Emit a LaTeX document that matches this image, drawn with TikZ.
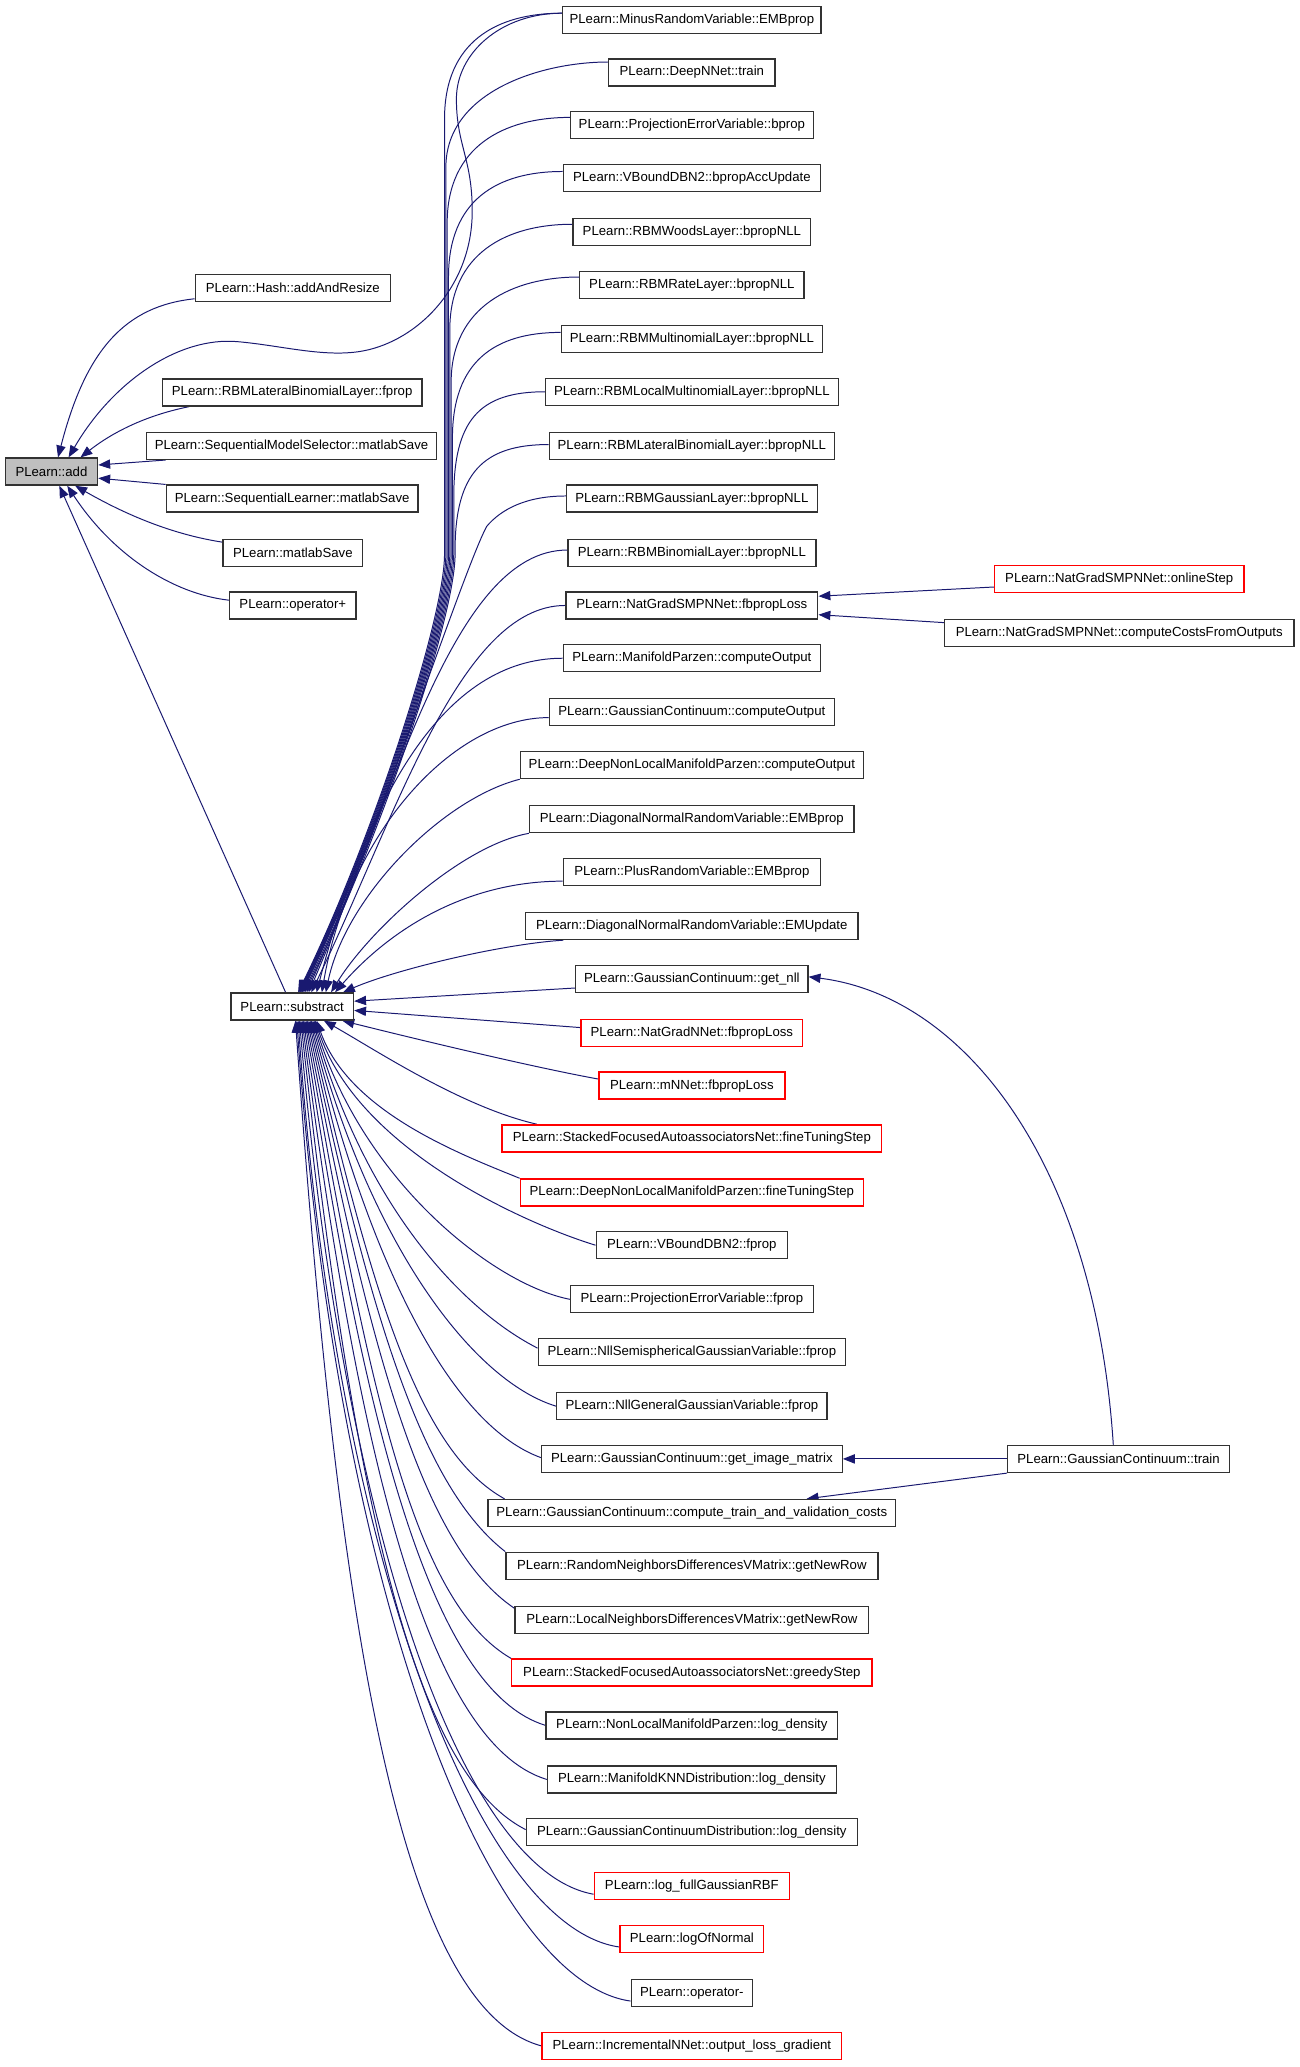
\documentclass[tikz,border=0pt]{standalone}
\usepackage{fontspec}
\setmainfont{Liberation Sans}
\usetikzlibrary{arrows.meta}
\definecolor{edgec}{RGB}{25,25,112}
\definecolor{boxc}{RGB}{50,50,50}
\definecolor{addfill}{RGB}{191,191,191}
\pgfdeclarelayer{bg}
\pgfsetlayers{bg,main}
\begin{document}
\begin{tikzpicture}[x=1pt,y=-1pt,
  box/.style={draw=boxc,line width=1pt,fill=white,minimum height=20.5pt,inner xsep=1pt,inner ysep=0pt,font=\fontsize{10}{12}\selectfont},
  rbox/.style={box,draw=red},
  edge/.style={draw=edgec,line width=0.75pt,-{Triangle[length=9pt,width=7pt]}}]
\useasboundingbox (0,0) rectangle (985,1567);

% left column
\node[box,minimum width=70pt,fill=addfill] (add) at (39,357.5) {PLearn::add};
\node[box,minimum width=148pt] (hash) at (222,218.5) {PLearn::Hash::addAndResize};
\node[box,minimum width=197pt] (latfprop) at (221.5,297.5) {PLearn::RBMLateralBinomialLayer::fprop};
\node[box,minimum width=220pt] (sms) at (221,338) {PLearn::SequentialModelSelector::matlabSave};
\node[box,minimum width=191pt] (sl) at (221.5,378) {PLearn::SequentialLearner::matlabSave};
\node[box,minimum width=106pt] (ms) at (222,419) {PLearn::matlabSave};
\node[box,minimum width=96pt] (opplus) at (222,459) {PLearn::operator+};
\node[box,minimum width=93pt] (subtract) at (221.5,763) {PLearn::substract};

% middle column
\node[box,minimum width=196pt] (minus) at (524.5,15) {PLearn::MinusRandomVariable::EMBprop};
\node[box,minimum width=126pt] (deepnnet) at (524.5,55) {PLearn::DeepNNet::train};
\node[box,minimum width=184pt] (pebprop) at (524.5,95) {PLearn::ProjectionErrorVariable::bprop};
\node[box,minimum width=195pt] (vbacc) at (524.5,135) {PLearn::VBoundDBN2::bpropAccUpdate};
\node[box,minimum width=180pt] (woods) at (524.5,176) {PLearn::RBMWoodsLayer::bpropNLL};
\node[box,minimum width=170pt] (rate) at (524.5,216) {PLearn::RBMRateLayer::bpropNLL};
\node[box,minimum width=198pt] (multi) at (524.5,257) {PLearn::RBMMultinomialLayer::bpropNLL};
\node[box,minimum width=222pt] (localmulti) at (524.5,297) {PLearn::RBMLocalMultinomialLayer::bpropNLL};
\node[box,minimum width=216pt] (latbprop) at (524.5,338) {PLearn::RBMLateralBinomialLayer::bpropNLL};
\node[box,minimum width=190pt] (gauss) at (524.5,378) {PLearn::RBMGaussianLayer::bpropNLL};
\node[box,minimum width=188pt] (binom) at (524.5,419) {PLearn::RBMBinomialLayer::bpropNLL};
\node[box,minimum width=191pt] (ngsmp) at (524.5,459) {PLearn::NatGradSMPNNet::fbpropLoss};
\node[box,minimum width=195pt] (mp) at (524.5,499) {PLearn::ManifoldParzen::computeOutput};
\node[box,minimum width=216pt] (gcco) at (524.5,540) {PLearn::GaussianContinuum::computeOutput};
\node[box,minimum width=260pt] (dnlco) at (524.5,580) {PLearn::DeepNonLocalManifoldParzen::computeOutput};
\node[box,minimum width=246pt] (dnembprop) at (524.5,621) {PLearn::DiagonalNormalRandomVariable::EMBprop};
\node[box,minimum width=195pt] (plus) at (524.5,661) {PLearn::PlusRandomVariable::EMBprop};
\node[box,minimum width=252pt] (dnemupd) at (524.5,702) {PLearn::DiagonalNormalRandomVariable::EMUpdate};
\node[box,minimum width=176pt] (getnll) at (524.5,742) {PLearn::GaussianContinuum::get\_nll};
\node[rbox,minimum width=168pt] (ngnn) at (524.5,783) {PLearn::NatGradNNet::fbpropLoss};
\node[rbox,minimum width=141pt] (mnnet) at (524.5,823) {PLearn::mNNet::fbpropLoss};
\node[rbox,minimum width=288pt] (sffine) at (524.5,863) {PLearn::StackedFocusedAutoassociatorsNet::fineTuningStep};
\node[rbox,minimum width=260pt] (dnlfine) at (524.5,904) {PLearn::DeepNonLocalManifoldParzen::fineTuningStep};
\node[box,minimum width=145pt] (vbfprop) at (524.5,944) {PLearn::VBoundDBN2::fprop};
\node[box,minimum width=184pt] (pefprop) at (524.5,985) {PLearn::ProjectionErrorVariable::fprop};
\node[box,minimum width=233pt] (nllsemi) at (524.5,1025) {PLearn::NllSemisphericalGaussianVariable::fprop};
\node[box,minimum width=205pt] (nllgen) at (524.5,1066) {PLearn::NllGeneralGaussianVariable::fprop};
\node[box,minimum width=228pt] (gcimg) at (524.5,1106) {PLearn::GaussianContinuum::get\_image\_matrix};
\node[box,minimum width=309pt] (gcctvc) at (524.5,1147) {PLearn::GaussianContinuum::compute\_train\_and\_validation\_costs};
\node[box,minimum width=282pt] (rnd) at (524.5,1187) {PLearn::RandomNeighborsDifferencesVMatrix::getNewRow};
\node[box,minimum width=268pt] (lnd) at (524.5,1228) {PLearn::LocalNeighborsDifferencesVMatrix::getNewRow};
\node[rbox,minimum width=273pt] (sfgreedy) at (524.5,1268) {PLearn::StackedFocusedAutoassociatorsNet::greedyStep};
\node[box,minimum width=221pt] (nlmp) at (524.5,1308) {PLearn::NonLocalManifoldParzen::log\_density};
\node[box,minimum width=219pt] (mknn) at (524.5,1349) {PLearn::ManifoldKNNDistribution::log\_density};
\node[box,minimum width=251pt] (gcd) at (524.5,1389) {PLearn::GaussianContinuumDistribution::log\_density};
\node[rbox,minimum width=148pt] (logfull) at (524.5,1430) {PLearn::log\_fullGaussianRBF};
\node[rbox,minimum width=109pt] (logof) at (524.5,1470) {PLearn::logOfNormal};
\node[box,minimum width=92pt] (opminus) at (524.5,1511) {PLearn::operator-};
\node[rbox,minimum width=227pt] (incr) at (524.5,1551) {PLearn::IncrementalNNet::output\_loss\_gradient};

% right column
\node[rbox,minimum width=189pt] (online) at (848.5,439) {PLearn::NatGradSMPNNet::onlineStep};
\node[box,minimum width=265pt] (ccfo) at (848.5,480) {PLearn::NatGradSMPNNet::computeCostsFromOutputs};
\node[box,minimum width=168pt] (train) at (848,1106) {PLearn::GaussianContinuum::train};

\begin{pgfonlayer}{bg}
% edges into add
\draw[edge] ([yshift=-8pt]hash.west) .. controls (95,232) and (65,265) .. ([xshift=5pt]add.north);
\draw[edge] ([yshift=5pt]minus.west) .. controls (380,10) and (346,40) .. (346,75)
  .. controls (346,110) and (358,120) .. (358,160)
  .. controls (358,215) and (320,255) .. (280,265)
  .. controls (250,272.5) and (215,262) .. (180,259)
  .. controls (135,255) and (85,290) .. ([xshift=13pt]add.north);
\draw[edge] ([xshift=21pt]latfprop.south west) .. controls (110,315) and (85,328) .. ([xshift=22pt]add.north);
\draw[edge] ([xshift=15pt]sms.south west) -- ([yshift=5pt]add.east);
\draw[edge] (sl.north west) -- ([yshift=-5pt]add.east);
\draw[edge] ([yshift=8pt]ms.west) .. controls (130,405) and (95,390) .. ([xshift=18pt]add.south);
\draw[edge] ([yshift=4pt]opplus.west) .. controls (130,450) and (85,420) .. ([xshift=12pt]add.south);
\draw[edge] ([xshift=-5pt]subtract.north) -- ([xshift=6pt]add.south);

% upper bundle into subtract
\foreach \n/\ys/\sy/\xk/\exs in {minus/5/10/337/4.5, deepnnet/8/47/338/5, pebprop/6/89/339/5.5,
  vbacc/5/130/340/6, woods/6/170/341/6.5, rate/6/210/342/7, multi/5/252/343/7.5,
  localmulti/0/297/344/8.5, latbprop/1/337/345/9.5}{
  \draw[edge] ([yshift=\ys pt]\n.west) .. controls +(-50,0) and (\xk,\sy+22) .. (\xk,\sy+80)
    -- (\xk,420) .. controls (\xk,470) and (\exs+276.5,640) .. ([xshift=\exs pt]subtract.north);
}
\draw[edge] ([yshift=2pt]gauss.west) .. controls +(-30,0) and (380,386) .. (369,399)
  .. controls (352,430) and (283,640) .. ([xshift=11pt]subtract.north);
\draw[edge] ([yshift=2pt]binom.west) .. controls +(-86,0) and (300,600) .. ([xshift=12.5pt]subtract.north);
\draw[edge] (ngsmp.west) .. controls +(-80,0) and (300,620) .. ([xshift=14.5pt]subtract.north);
\draw[edge] (mp.west) .. controls +(-90,0) and (279,603) .. ([xshift=18.5pt]subtract.north);
\draw[edge] ([yshift=-4pt]gcco.west) .. controls +(-72,0) and (265,630) .. ([xshift=22.5pt]subtract.north);
\draw[edge] (dnlco.south west) .. controls +(-59,15) and (262,680) .. ([xshift=25.5pt]subtract.north);
\draw[edge] (dnembprop.south west) .. controls +(-51,9) and (280,705) .. ([xshift=29.5pt]subtract.north);
\draw[edge] ([yshift=-7pt]plus.west) .. controls +(-68,0) and (300,700) .. ([xshift=32.5pt]subtract.north);
\draw[edge] ([xshift=29pt]dnemupd.south west) .. controls +(-47,3) and (300,735) .. ([xshift=38.5pt]subtract.north);
\draw[edge] ([yshift=-7pt]getnll.west) -- ([yshift=4pt]subtract.east);
\draw[edge] ([yshift=4pt]ngnn.west) -- ([yshift=-3pt]subtract.east);
\draw[edge] ([yshift=5pt]mnnet.west) .. controls +(-55,-10) and +(40,10) .. ([xshift=38pt]subtract.south);
\draw[edge] ([xshift=27pt]sffine.north west) .. controls +(-57,-13) and +(39,22) .. ([xshift=24pt]subtract.south);

% lower bundle into subtract
\foreach \n/\xs/\ys/\anc/\sy/\tht/\exs in {
  dnlfine/0/0/north west/894/22/18.5, vbfprop/0/0/west/944/17/17.5, pefprop/0/0/west/985/11/16.5,
  nllsemi/0/3/west/1022/27/15.5, nllgen/0/0/west/1066/17/14.5, gcimg/0/1/west/1105/20/13.5,
  gcctvc/13/0/north west/1137/29/12.5, rnd/0/0/north west/1177/38/11.5,
  lnd/0/-2/north west/1220/34/10.5, sfgreedy/0/0/north west/1258/30/9.5,
  nlmp/0/0/west/1308/17/8.5, mknn/0/0/west/1349/17/7.5, gcd/0/2/west/1387/27/6.5,
  logfull/0/-6/west/1436/10/5.5, logof/0/-6/west/1476/8/4.5, opminus/0/-6/west/1517/8/3.5,
  incr/0/0/west/1551/15/2.5}{
  \pgfmathsetmacro\dy{\sy-773}
  \pgfmathsetmacro\da{40+0.09*\dy}
  \pgfmathsetmacro\db{0.6*\dy}
  \pgfmathsetmacro\phv{70+16*min(1,max(0,(\dy-100)/600))}
  \pgfmathsetmacro\px{-\da*cos(\tht)}
  \pgfmathsetmacro\py{-\da*sin(\tht)}
  \pgfmathsetmacro\qx{\db*cos(\phv)}
  \pgfmathsetmacro\qy{\db*sin(\phv)}
  \draw[edge] ([xshift=\xs pt,yshift=\ys pt]\n.\anc) .. controls +(\px,\py) and +(\qx,\qy) .. ([xshift=\exs pt]subtract.south);
}

% right side edges
\draw[edge] ([yshift=-6pt]online.west) -- ([yshift=7pt]ngsmp.east);
\draw[edge] ([yshift=8pt]ccfo.west) -- ([yshift=-7pt]ngsmp.east);
\draw[edge] ([xshift=-4pt]train.north) .. controls (830,880) and (730,755) .. ([yshift=1.5pt]getnll.east);
\draw[edge] (train.west) -- (gcimg.east);
\draw[edge] (train.south west) -- ([xshift=87pt]gcctvc.north);
\end{pgfonlayer}
\end{tikzpicture}
\end{document}
